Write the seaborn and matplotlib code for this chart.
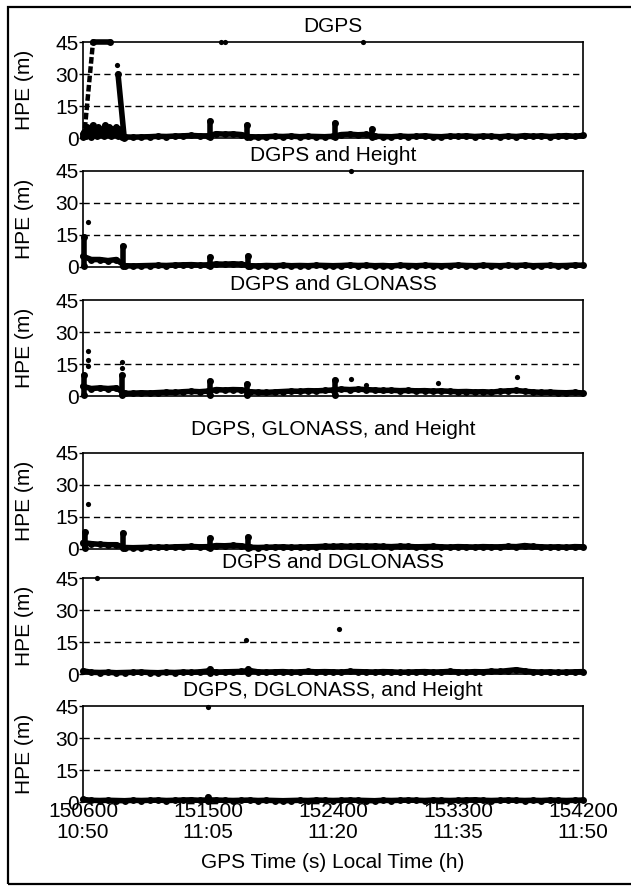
import numpy as np
import pandas as pd
import matplotlib
matplotlib.use("Agg")
import matplotlib.pyplot as plt
import matplotlib.transforms as mtrans
from matplotlib.patches import Rectangle
import seaborn as sns

# ---------------- data ----------------
titles = ["DGPS", "DGPS and Height", "DGPS and GLONASS",
          "DGPS, GLONASS, and Height", "DGPS and DGLONASS",
          "DGPS, DGLONASS, and Height"]

x_ticks = [150600, 151500, 152400, 153300, 154200]
x_tick_labels = ["150600\n10:50", "151500\n11:05", "152400\n11:20",
                 "153300\n11:35", "154200\n11:50"]
y_ticks = [0, 15, 30, 45]

# 60-s sampling grid of the HPE band
t_grid = list(range(150600, 154201, 60))

dgps_base = [2, 3, 2, 3, 2, 0.5, 0.4, 0.5, 0.6, 0.8, 0.7, 0.9, 1.0, 1.2, 1.0, 1.0,
             2.0, 1.8, 1.9, 1.6, 0.6, 0.5, 0.6, 0.8, 0.7, 0.9, 0.6, 0.8, 0.7, 0.6,
             0.8, 1.6, 1.8, 1.5, 1.7, 0.8, 0.7, 0.6, 0.9, 0.7, 0.8, 1.0, 0.7, 0.6,
             0.9, 0.8, 1.0, 0.7, 0.9, 0.8, 0.6, 0.9, 0.7, 1.1, 0.8, 1.0, 0.7, 0.9,
             1.1, 0.8, 1.2]
dgps_height_base = [5, 3.5, 3.5, 3, 3.5, 0.6, 0.5, 0.6, 0.7, 0.8, 0.7, 0.9, 1.0, 1.1,
                    0.9, 1.0, 1.4, 1.3, 1.5, 1.3, 0.6, 0.5, 0.7, 0.6, 0.8, 0.6, 0.7,
                    0.6, 0.8, 0.7, 0.6, 0.7, 0.9, 0.7, 0.8, 0.6, 0.7, 0.5, 0.8, 0.7,
                    0.6, 0.8, 0.7, 0.6, 0.7, 0.9, 0.7, 0.6, 0.8, 0.7, 0.6, 0.8, 0.7,
                    0.9, 0.6, 0.7, 0.8, 0.6, 0.7, 0.9, 0.8]
dgps_glo_base = [4.5, 3.5, 3.8, 3.5, 3.8, 1.2, 1.3, 1.5, 1.4, 1.6, 1.8, 1.7, 2.0, 2.2,
                 2.0, 2.3, 3.0, 2.8, 3.0, 2.9, 2.0, 1.8, 1.7, 1.9, 2.1, 2.3, 2.2, 2.5,
                 2.4, 2.6, 2.8, 3.2, 3.0, 3.2, 3.0, 2.8, 2.6, 2.7, 2.5, 2.6, 2.4, 2.5,
                 2.3, 2.4, 2.2, 2.0, 2.1, 1.9, 2.0, 1.8, 2.2, 2.4, 2.6, 2.2, 1.9, 1.7,
                 1.8, 1.6, 1.5, 1.7, 1.4]
dgps_glo_height_base = [3, 2.5, 2.2, 2.0, 2.0, 0.7, 0.6, 0.7, 0.8, 0.9, 0.8, 1.0, 1.1,
                        1.2, 1.0, 1.1, 1.6, 1.5, 1.7, 1.5, 0.8, 0.7, 0.8, 0.9, 1.0, 0.8,
                        0.9, 1.0, 1.1, 1.3, 1.2, 1.4, 1.2, 1.5, 1.3, 1.4, 1.2, 1.1, 1.3,
                        1.2, 1.0, 1.1, 1.2, 1.0, 0.9, 1.1, 1.0, 0.9, 1.1, 1.0, 1.0, 1.2,
                        1.1, 1.6, 1.2, 1.0, 0.9, 1.0, 0.8, 1.1, 1.0]
dgps_dglo_base = [1.5, 0.8, 0.7, 0.8, 0.6, 0.7, 0.8, 0.9, 0.7, 0.6, 0.8, 0.7, 0.9, 0.8,
                  1.0, 1.4, 0.9, 1.0, 1.1, 1.2, 1.6, 1.0, 0.9, 1.0, 1.1, 0.9, 1.0, 1.2,
                  1.0, 1.1, 1.0, 0.9, 1.2, 1.1, 1.0, 0.9, 1.1, 1.0, 0.8, 0.9, 1.0, 1.1,
                  0.9, 1.0, 1.2, 1.0, 0.9, 1.1, 1.0, 1.3, 1.2, 1.6, 2.0, 1.4, 1.0, 0.9,
                  1.0, 0.8, 0.9, 1.0, 1.1]
dgps_dglo_height_base = [1.2, 0.8, 0.7, 0.8, 0.7, 0.6, 0.8, 0.7, 0.8, 0.9, 0.7, 0.8,
                         0.9, 1.0, 0.8, 1.0, 0.9, 0.8, 0.7, 0.8, 0.9, 0.7, 0.8, 0.7,
                         0.6, 0.7, 0.8, 0.7, 0.9, 0.8, 0.7, 0.8, 0.9, 0.8, 0.7, 0.6,
                         0.8, 0.7, 0.8, 0.9, 0.8, 0.7, 0.9, 0.8, 0.7, 0.8, 0.9, 1.0,
                         0.8, 0.7, 0.8, 0.9, 0.8, 0.7, 0.8, 0.7, 0.9, 0.8, 0.7, 0.8, 0.9]

# DGPS start-up: noisy cluster, ramp to (clipped) 45 m and fall back
dgps_cluster_t = list(range(150600, 150881, 10))
dgps_cluster_v = [0.5, 3, 1, 5, 2, 4, 0.5, 6, 2, 3, 1, 5, 3, 2, 4, 1, 6, 3, 2, 5,
                  1, 4, 2, 3, 5, 1, 4, 2, 0.5]
dgps_ramp_t = [150607, 150672]
dgps_ramp_v = [0, 45]
dgps_flat_t = [150672, 150794]
dgps_flat_v = [45, 45]
dgps_fall_t = [150852, 150897]
dgps_fall_v = [30, 0]

# spikes (time, peak) and isolated points per panel
spike_t = [[151514, 151781, 152414, 152681],
           [150605, 150888, 151514, 151790],
           [150610, 150880, 151514, 151781, 152414],
           [150612, 150888, 151514, 151790],
           [151514, 151790],
           [151500]]
spike_v = [[8, 6, 7, 4],
           [14, 10, 4.5, 5],
           [10, 10, 7, 5.5, 7.5],
           [8, 7.5, 5, 5.5],
           [2.5, 2.5],
           [2.5]]
dot_t = [[150845, 151594, 151623, 152616],
         [150636, 152530],
         [150636, 150636, 150636, 150880, 150880, 152530, 152640, 153156, 153725],
         [150636],
         [150700, 151771, 152443],
         [151500]]
dot_v = [[34, 45, 45, 45],
         [21, 45],
         [21, 17, 14, 16, 13, 8, 5, 6, 9],
         [21],
         [45, 16, 21],
         [44.6]]

bases = [dgps_base, dgps_height_base, dgps_glo_base, dgps_glo_height_base,
         dgps_dglo_base, dgps_dglo_height_base]

# ---------------- style ----------------
sns.set_theme(style="white")
plt.rcParams["font.family"] = ["Liberation Sans", "DejaVu Sans"]
plt.rcParams["text.color"] = "black"
plt.rcParams["axes.labelcolor"] = "black"
FS = 15

W, H = 631, 888
fig = plt.figure(figsize=(W / 100, H / 100), dpi=100)

tops = [42, 171, 300, 453, 578, 706]
ax_h = 96
ax_l, ax_w = 83, 500
title_pads = [7, 7, 7, 13, 7, 7]
LW = 4.0

for i in range(6):
    ax = fig.add_axes([ax_l / W, 1 - (tops[i] + ax_h) / H, ax_w / W, ax_h / H])
    rows = []
    for t, v in zip(t_grid, bases[i]):
        rows.append((t, v, 0))
    for k, (t, v) in enumerate(zip(spike_t[i], spike_v[i])):
        rows.append((t, 0.5, k + 1))
        rows.append((t, v, k + 1))
    if i == 0:
        for t, v in zip(dgps_cluster_t, dgps_cluster_v):
            rows.append((t, v, 100))
        for t, v in zip(dgps_flat_t, dgps_flat_v):
            rows.append((t, v, 101))
        for t, v in zip(dgps_fall_t, dgps_fall_v):
            rows.append((t, v, 102))
    df = pd.DataFrame(rows, columns=["t", "hpe", "seg"])
    sns.lineplot(data=df, x="t", y="hpe", units="seg", estimator=None,
                 color="black", linewidth=LW, marker="o", markersize=5,
                 markeredgewidth=0, solid_capstyle="round", legend=False,
                 ax=ax, clip_on=False, sort=True)
    if i == 0:
        sns.lineplot(x=dgps_ramp_t, y=dgps_ramp_v, color="black", linewidth=3.2,
                     dashes=False, ls=(0, (1.5, 0.6)), ax=ax, legend=False,
                     clip_on=False)
    sns.scatterplot(x=dot_t[i], y=dot_v[i], color="black", s=14,
                    edgecolor="black", linewidth=0, ax=ax, clip_on=False,
                    legend=False, zorder=5)

    ax.set_xlim(150600, 154200)
    ax.set_ylim(0, 45)
    ax.set_yticks(y_ticks)
    ax.set_yticklabels([str(v) for v in y_ticks], fontsize=FS)
    off = mtrans.ScaledTranslation(0, 3 / 100, fig.dpi_scale_trans)
    for lab in ax.get_yticklabels():
        lab.set_transform(lab.get_transform() + off)
    ax.set_xticks(x_ticks)
    if i == 5:
        ax.set_xticklabels(x_tick_labels, fontsize=FS, linespacing=1.1)
        ax.set_xlabel("GPS Time (s) Local Time (h)", fontsize=FS, labelpad=8,
                      color="black")
    else:
        ax.set_xticklabels([])
        ax.set_xlabel("")
    ax.tick_params(axis="y", length=3, width=1, pad=0, colors="black", left=True)
    ax.tick_params(axis="x", length=0, pad=0, colors="black")
    ax.set_ylabel("HPE (m)", fontsize=FS, color="black")
    ax.yaxis.set_label_coords(-0.098, 0.5)
    ax.set_title(titles[i], fontsize=FS, pad=title_pads[i], color="black")
    for y in (15, 30):
        ax.axhline(y, color="black", lw=1.0, ls=(0, (4.5, 3)), zorder=1)
    for s in ax.spines.values():
        s.set_color("black")
        s.set_linewidth(1.2)
    ax.grid(False)

# outer frame
fig.patches.append(Rectangle((8 / W, 1 - 884 / H), 1.0, (884 - 7) / H,
                             transform=fig.transFigure, fill=False,
                             edgecolor="black", lw=1.6, clip_on=False))

fig.savefig("out.png", dpi=100)
